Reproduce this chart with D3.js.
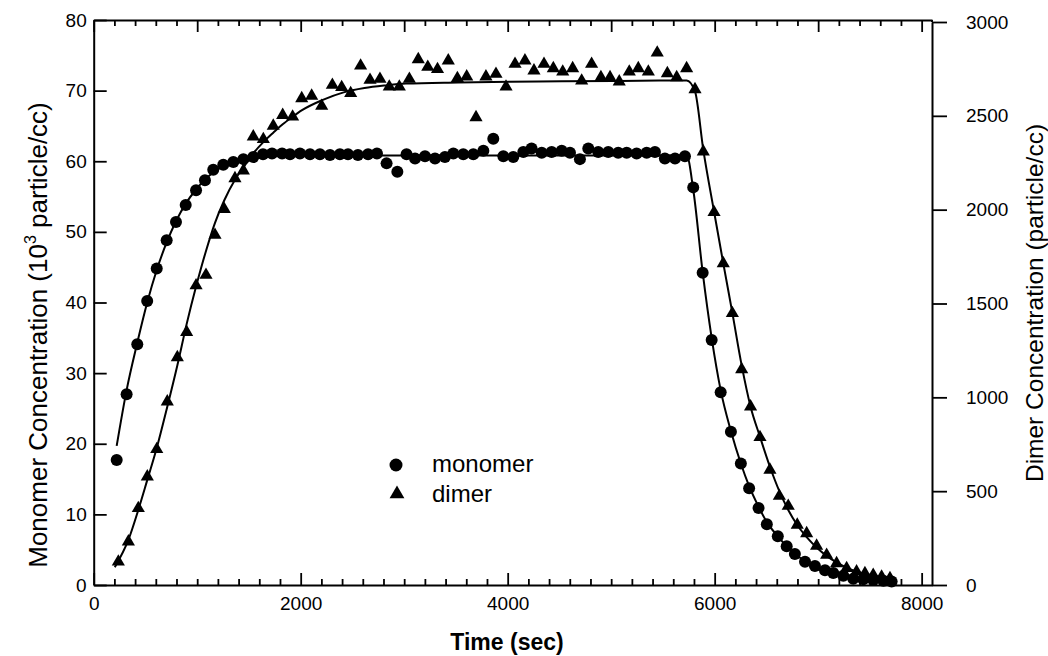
<!DOCTYPE html>
<html><head><meta charset="utf-8">
<script src="https://cdn.jsdelivr.net/npm/d3@7"></script>
<style>
body{margin:0;background:#fff}
text{font-family:"Liberation Sans",Arial,sans-serif;fill:#000}
</style>
</head><body>
<svg id="chart" width="1048" height="656"></svg>
<script>
// ---- data ----
const monomerTime = [222,318,421,517,609,705,795,889,989,1075,1155,1252,1349,1446,1542,1636,1723,1820,1897,1993,2090,2186,2283,2379,2457,2553,2651,2737,2830,2934,3023,3105,3201,3298,3394,3475,3571,3668,3765,3861,3958,4054,4151,4231,4329,4425,4522,4602,4698,4779,4875,4972,5068,5150,5246,5343,5423,5519,5617,5713,5793,5884,5971,6058,6157,6253,6333,6424,6504,6610,6696,6775,6873,6969,7066,7146,7243,7339,7436,7532,7630,7710];
const monomerConc = [17.7,27.0,34.1,40.2,44.8,48.8,51.4,53.8,55.9,57.3,58.8,59.5,59.9,60.3,60.6,61.0,61.1,61.1,61.0,61.1,61.0,61.0,60.9,61.0,61.0,60.9,61.0,61.1,59.7,58.5,61.0,60.4,60.7,60.4,60.6,61.1,61.0,61.0,61.5,63.2,60.7,60.6,61.3,61.8,61.2,61.3,61.5,61.2,60.3,61.8,61.3,61.3,61.2,61.2,61.1,61.2,61.3,60.4,60.4,60.7,56.3,44.2,34.7,27.3,21.7,17.2,13.7,10.9,8.6,6.9,5.5,4.4,3.3,2.7,2.1,1.7,1.3,0.9,0.8,0.7,0.6,0.5];

const dimerTime = [238,335,431,518,609,711,808,898,989,1085,1172,1262,1365,1446,1542,1639,1735,1826,1922,2010,2106,2203,2306,2396,2483,2579,2670,2766,2856,2953,3050,3136,3228,3322,3426,3514,3604,3694,3790,3887,3984,4071,4167,4254,4351,4441,4532,4628,4715,4811,4901,4989,5078,5175,5262,5359,5445,5543,5633,5729,5810,5890,5994,6083,6171,6261,6347,6438,6534,6625,6711,6798,6889,6985,7082,7178,7275,7371,7452,7532,7613,7694];
const dimerConc = [124,231,409,577,723,977,1213,1347,1596,1652,1865,2002,2167,2208,2389,2375,2446,2504,2495,2593,2606,2552,2664,2652,2620,2767,2691,2696,2655,2655,2696,2801,2760,2748,2794,2700,2709,2492,2709,2723,2655,2776,2794,2741,2776,2753,2735,2753,2687,2776,2705,2705,2682,2735,2753,2735,2836,2726,2705,2753,2641,2309,1986,1714,1448,1149,950,787,613,474,421,320,275,208,160,115,89,71,62,53,44,36];

// fitted curves
const monomerFitTime = [222,318,421,517,609,705,795,889,989,1075,1155,1252,1349,1446,1542,1711,2013,3017,4022,5027,5730,5793,5884,5971,6058,6157,6253,6333,6424,6504,6610,6696,6775,6873,6969,7066,7146,7243,7339,7436,7532,7630,7710];
const monomerFitConc = [19.7,27.6,34.3,40.0,44.6,48.5,51.5,54.0,56.0,57.4,58.4,59.3,59.9,60.3,60.5,60.7,60.8,60.8,60.8,60.8,60.8,56.0,44.3,35.0,27.6,21.8,17.2,14.0,11.1,8.9,6.9,5.5,4.4,3.4,2.6,2.0,1.6,1.3,1.0,0.8,0.6,0.5,0.4];

const dimerFitTime = [204,335,431,518,609,711,808,898,989,1085,1172,1262,1365,1446,1542,1639,1735,1826,1922,2013,2214,2415,2616,2816,3017,3520,4022,4525,5027,5530,5730,5810,5890,5994,6083,6171,6261,6347,6438,6534,6625,6711,6798,6889,6985,7082,7178,7275,7371,7452,7532,7613,7694];
const dimerFitConc = [95,240,400,560,730,950,1170,1390,1590,1780,1930,2050,2160,2225,2300,2360,2410,2455,2495,2530,2585,2625,2648,2662,2672,2678,2682,2684,2686,2688,2688,2630,2320,1990,1715,1450,1170,950,790,630,500,400,320,255,200,155,120,92,72,60,50,42,36];

const xTicksMajor = [0,2000,4000,6000,8000];
const leftTicks = [0,10,20,30,40,50,60,70,80];
const rightTicks = [0,500,1000,1500,2000,2500,3000];
const legendItems = ["monomer","dimer"];

// ---- drawing ----
const svg = d3.select("#chart");
const x = d3.scaleLinear().domain([0,8100]).range([93.7,932]);
const yL = d3.scaleLinear().domain([0,80]).range([585,20]);
const yR = d3.scaleLinear().domain([0,3000]).range([585,22]);

function styleAxis(g, fs){
  g.selectAll("path.domain").attr("stroke","#000").attr("stroke-width",2);
  g.selectAll(".tick line").attr("stroke","#000").attr("stroke-width",1.8);
  g.selectAll(".tick text").attr("font-size",fs).attr("fill","#000")
   .attr("font-family","'Liberation Sans',Arial,sans-serif");
}

// bottom axis
const minor200 = d3.range(0,8001,200);
const gbMinor = svg.append("g").attr("transform","translate(0,585)")
  .call(d3.axisBottom(x).tickValues(minor200.filter(v=>v%2000!==0)).tickSize(-6).tickFormat(""));
gbMinor.select("path.domain").remove(); styleAxis(gbMinor,19);
const gb = svg.append("g").attr("transform","translate(0,585)")
  .call(d3.axisBottom(x).tickValues(xTicksMajor).tickSizeInner(-12).tickSizeOuter(0).tickPadding(12).tickFormat(d3.format("d")));
styleAxis(gb,19);

// top axis
const gtMinor = svg.append("g").attr("transform","translate(0,20)")
  .call(d3.axisTop(x).tickValues(minor200.filter(v=>v%1000!==0)).tickSize(-6).tickFormat(""));
gtMinor.select("path.domain").remove(); styleAxis(gtMinor,19);
const gt = svg.append("g").attr("transform","translate(0,20)")
  .call(d3.axisTop(x).tickValues(d3.range(0,8001,1000)).tickSizeInner(-12).tickSizeOuter(0).tickFormat(""));
styleAxis(gt,19);

// left axis
const gl = svg.append("g").attr("transform","translate(93.7,0)")
  .call(d3.axisLeft(yL).tickValues(leftTicks).tickSizeInner(-13).tickSizeOuter(0).tickPadding(7));
styleAxis(gl,19);

// right axis
const gr = svg.append("g").attr("transform","translate(932,0)")
  .call(d3.axisRight(yR).tickValues(rightTicks).tickSizeInner(15).tickSizeOuter(0).tickPadding(19).tickFormat(d3.format("d")));
styleAxis(gr,19);
// close the frame at the top-right corner
svg.append("line").attr("x1",932).attr("x2",932).attr("y1",20).attr("y2",22).attr("stroke","#000").attr("stroke-width",2);

// fitted lines
const lineM = d3.line().x((d,i)=>x(monomerFitTime[i])).y(d=>yL(d)).curve(d3.curveMonotoneX);
const lineD = d3.line().x((d,i)=>x(dimerFitTime[i])).y(d=>yR(d)).curve(d3.curveMonotoneX);
svg.append("path").attr("d",lineM(monomerFitConc)).attr("fill","none").attr("stroke","#000").attr("stroke-width",2);
svg.append("path").attr("d",lineD(dimerFitConc)).attr("fill","none").attr("stroke","#000").attr("stroke-width",2);

// markers
svg.append("g").selectAll("circle").data(monomerConc).join("circle")
  .attr("cx",(d,i)=>x(monomerTime[i])).attr("cy",d=>yL(d)).attr("r",6).attr("fill","#000");
const tri = d3.symbol().type(d3.symbolTriangle).size(75);
svg.append("g").selectAll("path").data(dimerConc).join("path")
  .attr("d",tri).attr("transform",(d,i)=>`translate(${x(dimerTime[i])},${yR(d)})`).attr("fill","#000");

// legend
const leg = svg.append("g");
leg.append("circle").attr("cx",396).attr("cy",465).attr("r",6.5).attr("fill","#000");
leg.append("path").attr("d",d3.symbol().type(d3.symbolTriangle).size(95)).attr("transform","translate(397,494)").attr("fill","#000");
leg.selectAll("text").data(legendItems).join("text")
  .attr("x",432).attr("y",(d,i)=>472+i*30).attr("font-size",24).text(d=>d);

// axis titles
svg.append("text").attr("x",507).attr("y",650).attr("text-anchor","middle")
  .attr("font-size",23).attr("font-weight","bold").text("Time (sec)");
const lt = svg.append("text").attr("transform","translate(47,335) rotate(-90)")
  .attr("text-anchor","middle").attr("font-size",26);
lt.append("tspan").text("Monomer Concentration (10");
lt.append("tspan").attr("font-size",16).attr("dy",-11).text("3");
lt.append("tspan").attr("dy",11).text(" particle/cc)");
svg.append("text").attr("transform","translate(1043,303) rotate(-90)")
  .attr("text-anchor","middle").attr("font-size",24.5)
  .text("Dimer Concentration (particle/cc)");
</script>
</body></html>
